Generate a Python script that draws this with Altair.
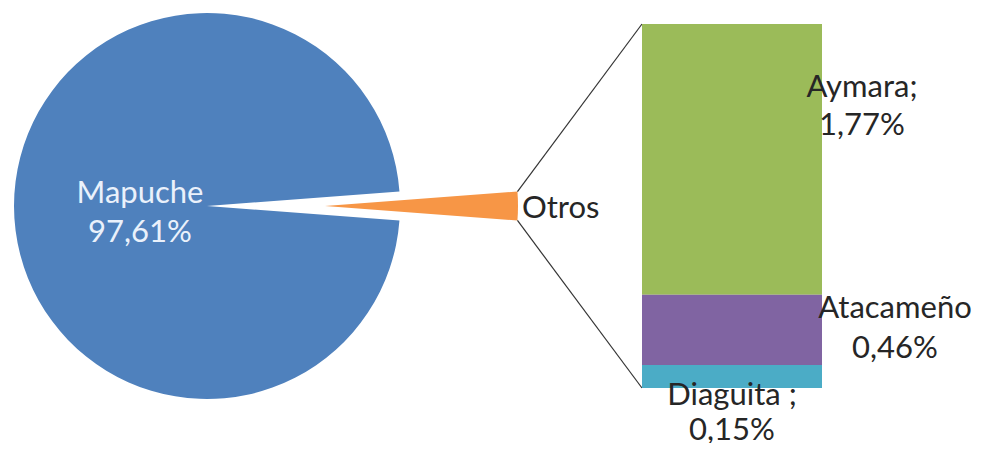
import math
import altair as alt
import pandas as pd

# ---------------- data ----------------
pie_cats = ["Mapuche", "Otros"]
pie_vals = [97.61, 2.39]
bar_cats = ["Aymara", "Atacameño", "Diaguita"]
bar_vals = [1.77, 0.46, 0.15]
bar_names = ["Aymara;", "Atacameño", "Diaguita ;"]

pie_colors = ["#4F81BD", "#F79646"]
bar_colors = ["#9BBB59", "#8064A2", "#4BACC6"]

# ---------------- geometry / style ----------------
W, H = 965, 435
CX, CY, R = 199, 198, 193
EXPLODE = 118
BAR_X0, BAR_X1 = 634, 814
BAR_Y_BOTTOM, BAR_Y_TOP = 380, 16
FONT = "Lato"
FS = 31
TXT = "#262626"

total_pie = sum(pie_vals)
total_bar = sum(bar_vals)
otros_share = pie_vals[pie_cats.index("Otros")] / total_pie
half = math.pi * otros_share
start = math.pi / 2 - half

theta_scale = alt.Scale(domain=[0, total_pie], range=[start, start + 2 * math.pi])
y_scale = alt.Scale(domain=[0, total_bar], range=[BAR_Y_BOTTOM, BAR_Y_TOP])
color_scale = alt.Scale(domain=pie_cats + bar_cats, range=pie_colors + bar_colors)

pct_expr = "replace(format(datum.v, '.2f'), '.', ',') + '%'"

pie_df = pd.DataFrame({"cat": pie_cats, "v": pie_vals})
pie_base = (
    alt.Chart(pie_df)
    .transform_window(t1="sum(v)", sort=[alt.SortField("cat", order="descending")], frame=[None, 0])
    .transform_calculate(t0="datum.t1 - datum.v", tm="datum.t1 - datum.v / 2",
                         label="datum.cat + '\\n' + " + pct_expr)
)

color_enc = alt.Color("cat:N", scale=color_scale, legend=None)

mapuche_arc = pie_base.transform_filter(alt.datum.cat == "Mapuche").mark_arc(outerRadius=R).encode(
    theta=alt.Theta("t0:Q", scale=theta_scale), theta2="t1:Q", color=color_enc,
    x=alt.value(CX), y=alt.value(CY))
otros_arc = pie_base.transform_filter(alt.datum.cat == "Otros").mark_arc(outerRadius=R).encode(
    theta=alt.Theta("t0:Q", scale=theta_scale), theta2="t1:Q", color=color_enc,
    x=alt.value(CX + EXPLODE), y=alt.value(CY))

mapuche_text = pie_base.transform_filter(alt.datum.cat == "Mapuche").mark_text(
    radius=67, font=FONT, fontSize=FS, lineHeight=39, color="#EAF1FB", lineBreak="\n",
    align="center", baseline="middle", dy=-12).encode(
    theta=alt.Theta("tm:Q", scale=theta_scale), text="label:N",
    x=alt.value(CX), y=alt.value(CY))
otros_text = pie_base.transform_filter(alt.datum.cat == "Otros").mark_text(
    radius=R + 4, font=FONT, fontSize=FS, color=TXT, align="left", baseline="middle", dy=3).encode(
    theta=alt.Theta("tm:Q", scale=theta_scale), text="cat:N",
    x=alt.value(CX + EXPLODE), y=alt.value(CY))

bar_df = pd.DataFrame({"cat": bar_cats, "v": bar_vals, "name": bar_names})
bar_base = (
    alt.Chart(bar_df)
    .transform_window(rank="row_number()")
    .transform_window(b1="sum(v)", sort=[alt.SortField("rank", order="descending")], frame=[None, 0])
    .transform_calculate(b0="datum.b1 - datum.v", bm="datum.b1 - datum.v / 2",
                         label="datum.name + '\\n' + " + pct_expr)
)

bars = bar_base.mark_rect().encode(
    x=alt.value(BAR_X0), x2=alt.value(BAR_X1),
    y=alt.Y("b0:Q", scale=y_scale, axis=None), y2="b1:Q",
    color=color_enc)

label_layers = []
for cat, dx, dy, lh in [("Aymara", 40, -71, 38), ("Atacameño", 73, -21, 40), ("Diaguita", -90, 19, 35)]:
    label_layers.append(
        bar_base.transform_filter(alt.datum.cat == cat).mark_text(
            font=FONT, fontSize=FS, lineHeight=lh, color=TXT, lineBreak="\n", align="center",
            baseline="middle", dx=dx, dy=dy).encode(
            x=alt.value(BAR_X1), y=alt.Y("bm:Q", scale=y_scale, axis=None), text="label:N"))

arc_x = CX + EXPLODE + R * math.cos(half)
arc_top = CY - R * math.sin(half)
arc_bot = CY + R * math.sin(half)

rules = []
for bval, ay in [(total_bar, arc_top), (0.0, arc_bot)]:
    rules.append(
        alt.Chart(pd.DataFrame({"b": [bval]})).mark_rule(color="#333333", strokeWidth=1.2).encode(
            x=alt.value(BAR_X0), x2=alt.value(arc_x),
            y=alt.Y("b:Q", scale=y_scale, axis=None), y2=alt.value(ay)))

chart = alt.layer(
    mapuche_arc, otros_arc, *rules, bars, mapuche_text, otros_text, *label_layers
).properties(width=W, height=H, padding=0, autosize="none", background="white").configure_view(stroke=None)

chart.save("out.html", embed_options={"renderer": "svg", "actions": False})
